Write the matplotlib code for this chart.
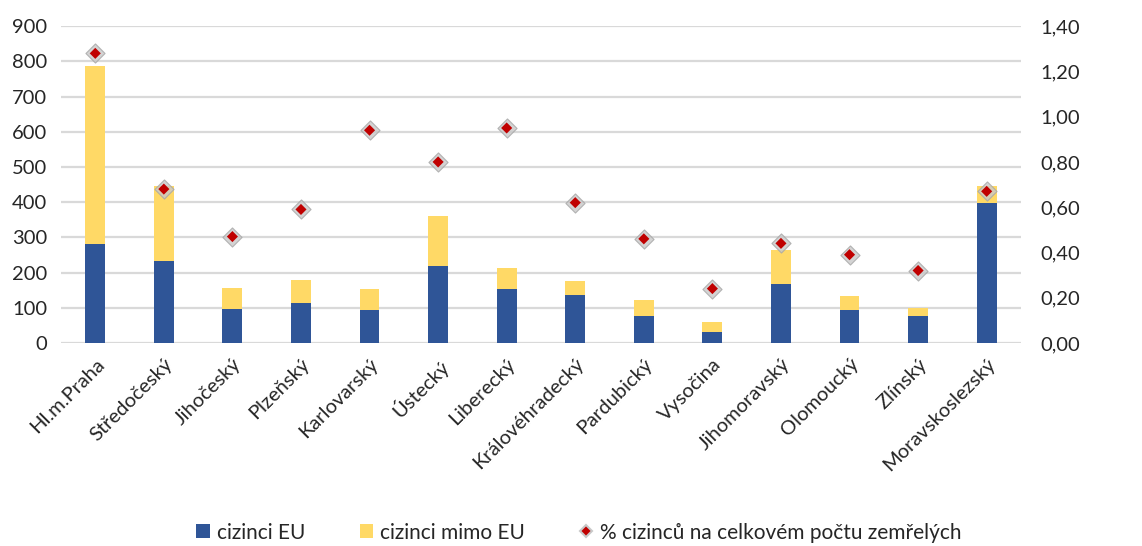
import numpy as np
import matplotlib.pyplot as plt
from matplotlib.lines import Line2D
from matplotlib.patches import Patch

plt.rcParams['font.family'] = ['Lato', 'DejaVu Sans']

# ---- data ----
kraje = ['Hl.m.Praha', 'Středočeský', 'Jihočeský', 'Plzeňský', 'Karlovarský', 'Ústecký',
         'Liberecký', 'Královéhradecký', 'Pardubický', 'Vysočina', 'Jihomoravský',
         'Olomoucký', 'Zlínský', 'Moravskoslezský']
cizinci_eu = [280, 233, 97, 112, 94, 218, 152, 137, 76, 31, 167, 94, 76, 397]
cizinci_mimo_eu = [506, 213, 58, 68, 60, 144, 61, 40, 46, 29, 97, 39, 24, 49]
podil_pct = [1.28, 0.68, 0.47, 0.59, 0.94, 0.80, 0.95, 0.62, 0.46, 0.24, 0.44, 0.39, 0.32, 0.67]

BLUE = '#2F5597'
YELLOW = '#FFD966'
RED = '#C00000'
GRID = '#D9D9D9'

fig = plt.figure(figsize=(11.42, 5.46), dpi=100)
ax = fig.add_axes([0.0534, 0.372, 0.8406, 0.580])
ax2 = ax.twinx()

x = np.arange(len(kraje))
ax.bar(x, cizinci_eu, width=0.29, color=BLUE, zorder=2)
ax.bar(x, cizinci_mimo_eu, width=0.29, bottom=cizinci_eu, color=YELLOW, zorder=2)

# diamond with soft grey halo, like the Excel marker
ax2.scatter(x, podil_pct, marker='D', s=95, color='#C8C8C8', edgecolors='#A6A6A6',
            linewidths=0.8, zorder=3, alpha=0.8)
ax2.scatter(x, podil_pct, marker='D', s=32, color=RED, edgecolors='none', zorder=4)

ax.set_xlim(-0.5, len(kraje) - 0.5)
ax.set_ylim(0, 900)
ax.set_yticks(np.arange(0, 901, 100))
ax2.set_ylim(0, 1.4)
ax2.set_yticks(np.arange(0, 1.41, 0.2))
ax2.set_yticklabels([f'{v:.2f}'.replace('.', ',') for v in np.arange(0, 1.41, 0.2)])

ax.yaxis.grid(True, color=GRID, linewidth=1.6, zorder=0)
ax.set_axisbelow(True)
for a in (ax, ax2):
    for s in a.spines.values():
        s.set_visible(False)
    a.tick_params(length=0, labelsize=14.5, labelcolor='#262626')
ax.tick_params(axis='y', pad=10)
ax2.tick_params(axis='y', pad=14)

ax.set_xticks(x)
ax.set_xticklabels(kraje, rotation=45, ha='right', rotation_mode='anchor', fontsize=14.5)
ax.tick_params(axis='x', pad=9)

handles = [
    Patch(facecolor=BLUE, label='cizinci EU'),
    Patch(facecolor=YELLOW, label='cizinci mimo EU'),
    Line2D([], [], marker='D', linestyle='none', markerfacecolor=RED,
           markeredgecolor='#C8C8C8', markeredgewidth=1.5, markersize=6,
           label='% cizinců na celkovém počtu zemřelých'),
]
fig.legend(handles=handles, loc='lower center', bbox_to_anchor=(0.507, -0.028), ncol=3,
           frameon=False, fontsize=15, handlelength=0.65, handleheight=0.65,
           handletextpad=0.35, columnspacing=2.6, labelcolor='#262626')

fig.savefig('out.png', dpi=100)
